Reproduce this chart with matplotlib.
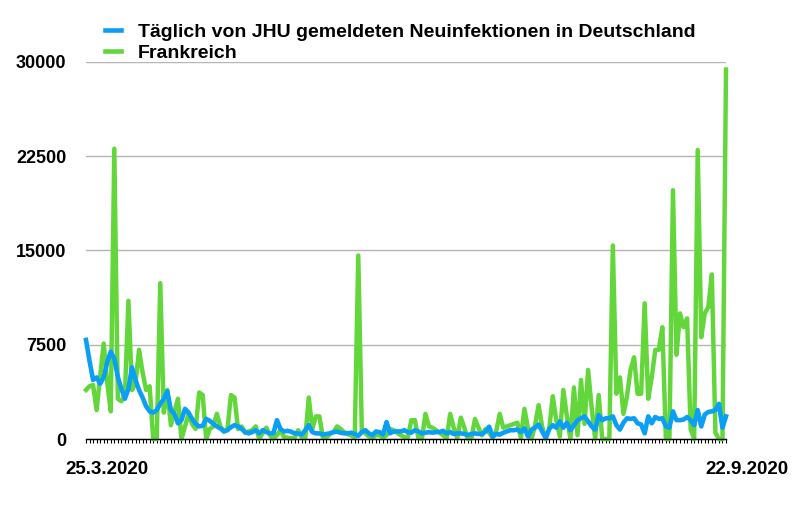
import pandas as pd
import matplotlib
matplotlib.use("Agg")
import matplotlib.pyplot as plt
import matplotlib.transforms as mtransforms
from matplotlib.lines import Line2D

# Zeitraum: 25.3.2020 - 22.9.2020, ein Wert pro Tag
dates = pd.date_range("2020-03-25", "2020-09-22", freq="D")

# Deutschland, täglich gemeldete Neuinfektionen (JHU)
deutschland = [
    7880, 6200, 4700, 4900, 4400, 4900, 6100, 6950, 6400, 4950,
    4000, 3200, 4000, 5700, 4700, 3900, 3300, 2600, 2200, 2100,
    2300, 2800, 3200, 3800, 2300, 2000, 1250, 1500, 2400, 2100,
    1600, 1200, 1000, 1050, 1600, 1450, 1200, 1000, 850, 600,
    700, 950, 1100, 1000, 800, 550, 450, 550, 700, 450,
    700, 550, 450, 450, 1500, 800, 600, 650, 580, 450,
    450, 350, 700, 1100, 550, 450, 450, 350, 400, 450,
    550, 580, 500, 450, 450, 500, 400, 250, 550, 700,
    450, 300, 600, 550, 350, 1350, 450, 600, 600, 600,
    700, 550, 500, 700, 600, 450, 500, 550, 500, 550,
    550, 650, 450, 550, 400, 450, 450, 400, 320, 400,
    450, 400, 400, 600, 980, 200, 400, 350, 500, 600,
    700, 700, 750, 550, 850, 200, 750, 900, 1150, 600,
    100, 800, 1100, 900, 1400, 900, 1300, 700, 1100, 1500,
    1650, 1800, 1400, 1000, 750, 1900, 1500, 1650, 1650, 1800,
    1100, 750, 1300, 1650, 1600, 1650, 1250, 1150, 450, 1800,
    1250, 1750, 1600, 1650, 1000, 900, 2200, 1500, 1500, 1550,
    1750, 1500, 1100, 2300, 1000, 1950, 2150, 2200, 2300, 2800,
    900, 1800,
]

# Frankreich
frankreich = [
    3900, 4200, 4300, 2300, 5000, 7600, 4500, 2200, 23100, 3200,
    3000, 3500, 11000, 3900, 4400, 7100, 5300, 3900, 4200, 0,
    0, 12400, 2100, 3900, 1100, 2200, 3200, 0, 1000, 2000,
    1200, 800, 3700, 3500, 0, 800, 1000, 2000, 1000, 600,
    800, 3500, 3300, 800, 1000, 500, 600, 700, 1000, 0,
    500, 900, 300, 0, 300, 700, 150, 100, 50, 100,
    700, 150, 50, 3300, 800, 1800, 1800, 100, 100, 400,
    550, 1000, 800, 550, 400, 300, 100, 14600, 700, 450,
    200, 100, 300, 300, 100, 300, 800, 700, 500, 300,
    150, 100, 1500, 1500, 100, 0, 2000, 1000, 900, 700,
    500, 300, 50, 2000, 900, 50, 1700, 900, 0, 50,
    1600, 900, 300, 800, 500, 100, 600, 2000, 900, 1000,
    1100, 1200, 1300, 100, 2400, 800, 0, 1100, 2700, 1000,
    0, 800, 3400, 1500, 200, 3900, 1800, 0, 4100, 300,
    4700, 1200, 5500, 2500, 0, 3500, 0, 0, 0, 15400,
    3600, 4900, 2000, 3400, 5500, 6500, 3600, 3600, 10800, 3200,
    4900, 7100, 7100, 8900, 0, 0, 19800, 6700, 10000, 8900,
    9600, 800, 0, 23000, 8100, 10000, 10500, 13100, 500, 0,
    0, 29400,
]

y_ticks = [0, 7500, 15000, 22500, 30000]
x_labels = ["25.3.2020", "22.9.2020"]
legend_labels = ["Täglich von JHU gemeldeten Neuinfektionen in Deutschland", "Frankreich"]

BLUE = "#0a9ff5"
GREEN = "#62d63a"

plt.rcParams["font.family"] = ["Liberation Sans", "DejaVu Sans"]
plt.rcParams["font.weight"] = "bold"

fig = plt.figure(figsize=(8, 5.11), dpi=100)
ax = fig.add_axes([86 / 800, 1 - 439 / 511, 640 / 800, 377 / 511])

ax.plot(dates, frankreich, color=GREEN, lw=3.2, clip_on=False, zorder=3)
ax.plot(dates, deutschland, color=BLUE, lw=3.3, clip_on=False, zorder=4)

ax.set_ylim(0, 30000)
ax.set_xlim(dates[0], dates[-1])
ax.set_yticks(y_ticks)
ax.set_yticklabels([str(v) for v in y_ticks], fontsize=13, fontweight="bold")
ax.yaxis.grid(True, color="#b5b5b5", lw=1)
ax.set_axisbelow(True)
ax.tick_params(axis="y", length=0, pad=14)

for side in ["left", "right", "top"]:
    ax.spines[side].set_visible(False)
ax.spines["bottom"].set_color("black")
ax.spines["bottom"].set_linewidth(1)
ax.spines["bottom"].set_zorder(5)

# ein Strich pro Tag, Beschriftung nur am Anfang und Ende
ax.set_xticks([dates[0], dates[-1]])
ax.set_xticklabels(x_labels, fontsize=13.5, fontweight="bold")
ax.set_xticks(dates, minor=True)
ax.tick_params(axis="x", which="both", length=3, width=0.8, color="black", pad=13)
shift = mtransforms.ScaledTranslation(0.21, 0, fig.dpi_scale_trans)
for lbl in ax.get_xticklabels():
    lbl.set_transform(lbl.get_transform() + shift)

handles = [Line2D([], [], color=BLUE, lw=3.3), Line2D([], [], color=GREEN, lw=3.3)]
fig.legend(handles, legend_labels, loc="upper left", bbox_to_anchor=(0.131, 0.955),
           frameon=False, handlelength=0.85, handletextpad=0.85,
           labelspacing=0.2, borderpad=0, borderaxespad=0,
           prop={"weight": "bold", "size": 14})

fig.savefig("out.png", dpi=100)
